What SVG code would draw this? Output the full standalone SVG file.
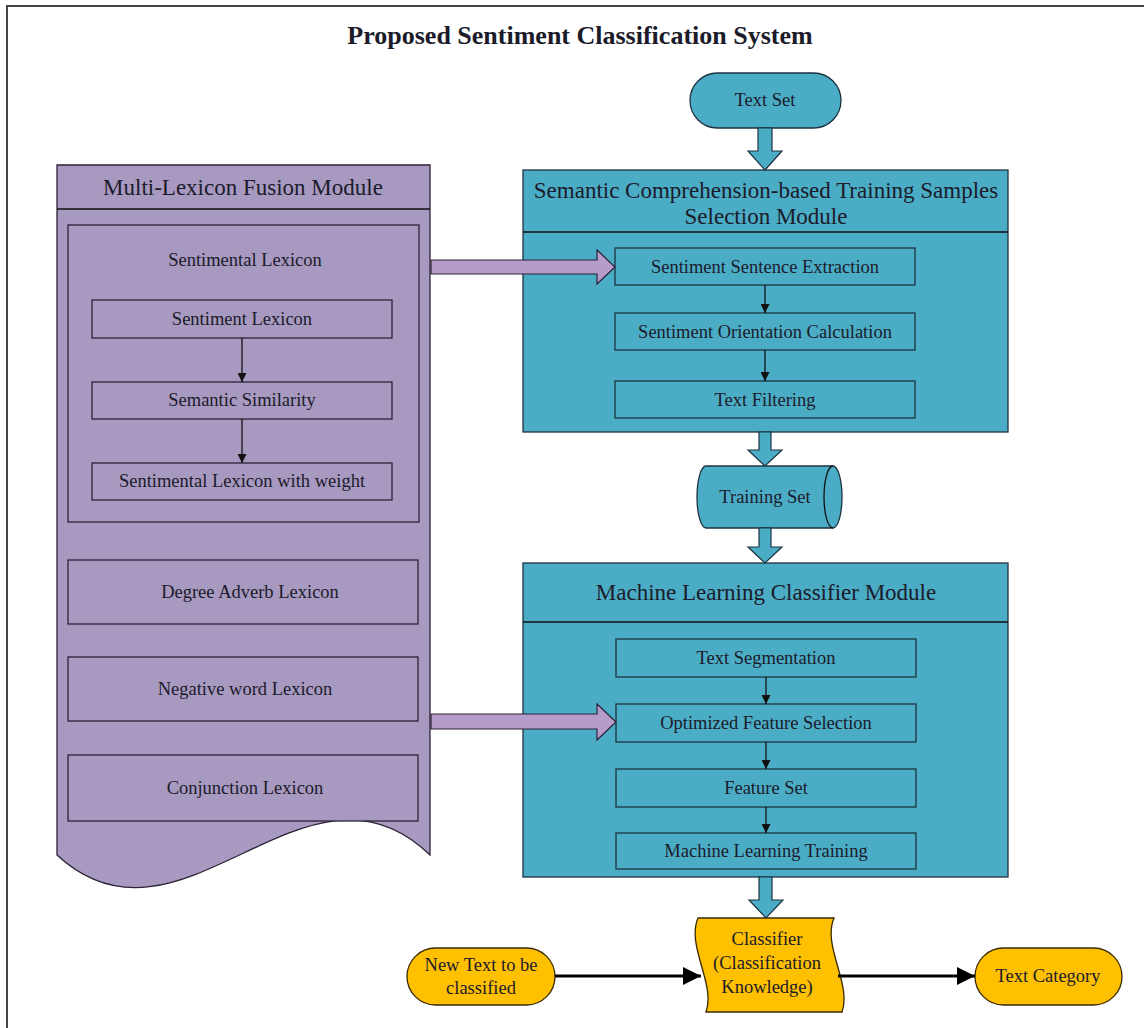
<svg xmlns="http://www.w3.org/2000/svg" width="1144" height="1028" viewBox="0 0 1144 1028">
<defs>
<style>
text{font-family:"Liberation Serif","Times New Roman",serif;fill:#1b1b2a;text-anchor:middle;dominant-baseline:central}
.t{font-size:18.5px}
.h{font-size:23px}
.pm{fill:#a899c1;stroke:#2b2236;stroke-width:1.3}
.tm{fill:#4bacc6;stroke:#1d3340;stroke-width:1.3}
.ym{fill:#ffc000;stroke:#3a2a00;stroke-width:1.3}
.ln{stroke:#111;stroke-width:1.3;fill:none}
.bl{stroke:#000;stroke-width:3;fill:none}
.pa{fill:#b69ccb;stroke:#2b2236;stroke-width:1.2}
.ta{fill:#4bacc6;stroke:#1d3340;stroke-width:1.2}
</style>
<marker id="sm" viewBox="0 0 10 10" refX="10" refY="5" markerWidth="9" markerHeight="9" markerUnits="userSpaceOnUse" orient="auto"><path d="M0,0 L10,5 L0,10 Z" fill="#111"/></marker>
<marker id="bm" viewBox="0 0 10 10" refX="10" refY="5" markerWidth="18" markerHeight="18" markerUnits="userSpaceOnUse" orient="auto"><path d="M0,0 L10,5 L0,10 Z" fill="#000"/></marker>
</defs>
<rect width="1144" height="1028" fill="#fff"/>
<path d="M7,1028 V6 H1144" fill="none" stroke="#444" stroke-width="2"/>
<text x="580" y="35" style="font-size:26px;font-weight:bold">Proposed Sentiment Classification System</text>

<g id="multi-lexicon-module">
<path class="pm" d="M57,165 H430 V855 C306,735 181,970 57,855 Z"/>
<line class="ln" x1="57" y1="209" x2="430" y2="209"/>
<text class="h" x="243" y="187">Multi-Lexicon Fusion Module</text>
</g>
<g id="sentimental-lexicon">
<rect class="pm" x="68" y="225" width="351" height="297"/>
<text class="t" x="245" y="260">Sentimental Lexicon</text>
</g>
<g id="sentiment-lexicon"><rect class="pm" x="92" y="300" width="300" height="38"/><text class="t" x="242" y="319">Sentiment Lexicon</text></g>
<g id="semantic-similarity"><rect class="pm" x="92" y="382" width="300" height="37"/><text class="t" x="242" y="400">Semantic Similarity</text></g>
<g id="sentimental-lexicon-weight"><rect class="pm" x="92" y="463" width="300" height="37"/><text class="t" x="242" y="481">Sentimental Lexicon with weight</text></g>
<g id="degree-adverb"><rect class="pm" x="68" y="560" width="350" height="64"/><text class="t" x="250" y="592">Degree Adverb Lexicon</text></g>
<g id="negative-word"><rect class="pm" x="68" y="657" width="350" height="64"/><text class="t" x="245" y="689">Negative word Lexicon</text></g>
<g id="conjunction"><rect class="pm" x="68" y="755" width="350" height="66"/><text class="t" x="245" y="788">Conjunction Lexicon</text></g>

<g id="text-set"><rect class="tm" x="690" y="73" width="151" height="55" rx="27.5"/><text class="t" x="765" y="100">Text Set</text></g>

<g id="semantic-module">
<rect class="tm" x="523" y="170" width="485" height="262"/>
<line class="ln" x1="523" y1="232" x2="1008" y2="232"/>
<text class="h" x="766" y="190">Semantic Comprehension-based Training Samples</text>
<text class="h" x="766" y="216">Selection Module</text>
</g>
<g id="sentence-extraction"><rect class="tm" x="615" y="248" width="300" height="37"/><text class="t" x="765" y="267">Sentiment Sentence Extraction</text></g>
<g id="orientation-calc"><rect class="tm" x="615" y="313" width="300" height="37"/><text class="t" x="765" y="332">Sentiment Orientation Calculation</text></g>
<g id="text-filtering"><rect class="tm" x="615" y="381" width="300" height="37"/><text class="t" x="765" y="400">Text Filtering</text></g>

<g id="training-set">
<path class="tm" d="M706,466 H833 A9,31 0 0 1 833,528 H706 A9,31 0 0 1 706,466 Z"/>
<path class="ln" d="M833,466 A9,31 0 0 0 833,528"/>
<text class="t" x="765" y="497">Training Set</text>
</g>

<g id="ml-module">
<rect class="tm" x="523" y="563" width="485" height="314"/>
<line class="ln" x1="523" y1="622" x2="1008" y2="622"/>
<text class="h" x="766" y="592">Machine Learning Classifier Module</text>
</g>
<g id="text-segmentation"><rect class="tm" x="616" y="639" width="300" height="38"/><text class="t" x="766" y="658">Text Segmentation</text></g>
<g id="feature-selection"><rect class="tm" x="616" y="704" width="300" height="38"/><text class="t" x="766" y="723">Optimized Feature Selection</text></g>
<g id="feature-set"><rect class="tm" x="616" y="769" width="300" height="38"/><text class="t" x="766" y="788">Feature Set</text></g>
<g id="ml-training"><rect class="tm" x="616" y="833" width="300" height="36"/><text class="t" x="766" y="851">Machine Learning Training</text></g>

<g id="new-text"><rect class="ym" x="407" y="948" width="148" height="57" rx="28.5"/><text class="t" x="481" y="965">New Text to be</text><text class="t" x="481" y="988">classified</text></g>
<g id="classifier">
<path class="ym" d="M698,918 H834 C822,946 852,984 842,1012 H706 C716,984 686,946 698,918 Z"/>
<text class="t" x="767" y="939">Classifier</text>
<text class="t" x="767" y="963">(Classification</text>
<text class="t" x="767" y="987">Knowledge)</text>
</g>
<g id="text-category"><rect class="ym" x="975" y="948" width="147" height="57" rx="28.5"/><text class="t" x="1048" y="976">Text Category</text></g>

<g id="connectors">
<line class="ln" x1="242" y1="338" x2="242" y2="382" marker-end="url(#sm)"/>
<line class="ln" x1="242" y1="419" x2="242" y2="463" marker-end="url(#sm)"/>
<line class="ln" x1="765" y1="285" x2="765" y2="313" marker-end="url(#sm)"/>
<line class="ln" x1="765" y1="350" x2="765" y2="381" marker-end="url(#sm)"/>
<line class="ln" x1="766" y1="677" x2="766" y2="704" marker-end="url(#sm)"/>
<line class="ln" x1="766" y1="742" x2="766" y2="769" marker-end="url(#sm)"/>
<line class="ln" x1="766" y1="807" x2="766" y2="833" marker-end="url(#sm)"/>
<path class="ta" d="M758,128 H772 V151 H782 L765,170 L748,151 H758 Z"/>
<path class="ta" d="M759,432 H771 V450 H782 L765,466 L748,450 H759 Z"/>
<path class="ta" d="M759,528 H771 V547 H782 L765,563 L748,547 H759 Z"/>
<path class="ta" d="M759,877 H772 V900 H783 L766,918 L749,900 H759 Z"/>
<path class="pa" d="M431,260 H597 V250 L615,267 L597,284 V274 H431 Z"/>
<path class="pa" d="M431,714 H597 V704 L616,722 L597,740 V729 H431 Z"/>
<line class="bl" x1="555" y1="976" x2="701" y2="976" marker-end="url(#bm)"/>
<line class="bl" x1="838" y1="976" x2="975" y2="976" marker-end="url(#bm)"/>
</g>
</svg>
